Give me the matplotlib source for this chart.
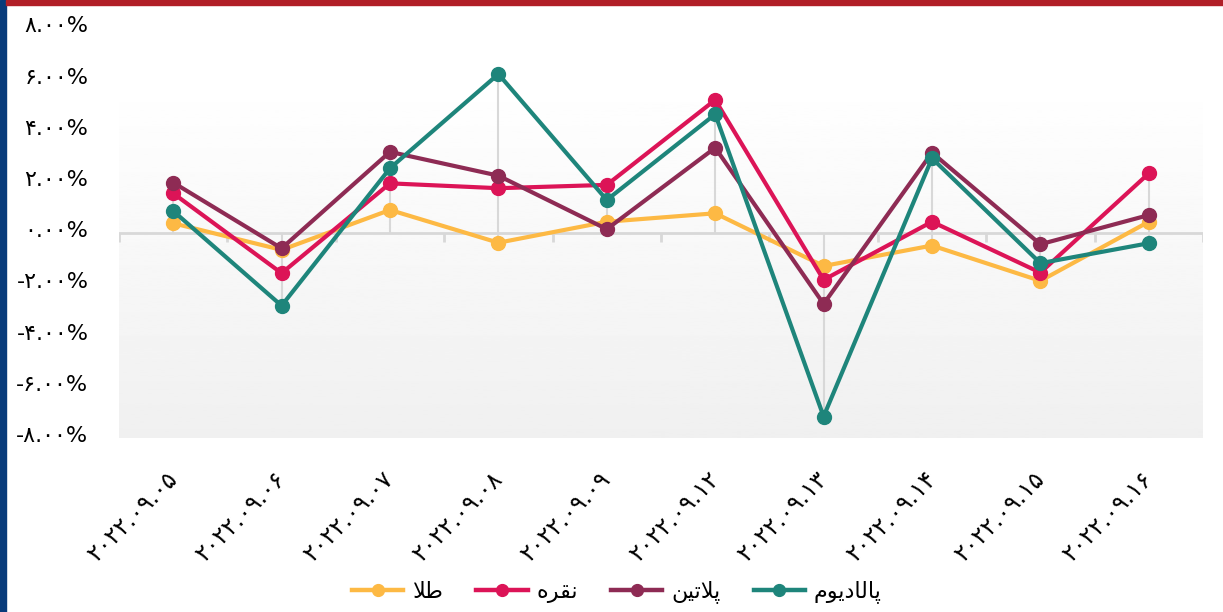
import numpy as np
import matplotlib.pyplot as plt
import matplotlib.transforms as mtransforms
from matplotlib.lines import Line2D
from matplotlib.patches import Rectangle

plt.rcParams['font.family'] = ['DejaVu Sans']

# داده ها
dates = ['2022.09.05', '2022.09.06', '2022.09.07', '2022.09.08', '2022.09.09',
         '2022.09.12', '2022.09.13', '2022.09.14', '2022.09.15', '2022.09.16']
gold = [0.39, -0.65, 0.91, -0.37, 0.45, 0.78, -1.28, -0.48, -1.86, 0.45]
silver = [1.56, -1.56, 1.95, 1.76, 1.89, 5.21, -1.82, 0.45, -1.54, 2.34]
platinum = [1.98, -0.59, 3.18, 2.25, 0.16, 3.34, -2.76, 3.15, -0.43, 0.71]
palladium = [0.87, -2.83, 2.54, 6.22, 1.30, 4.65, -7.16, 2.93, -1.17, -0.39]
names = ['طلا', 'نقره', 'پلاتین', 'پالادیوم']
colors = ['#fdb944', '#dc1457', '#8e2b54', '#1e857b']
yticks = [-8, -6, -4, -2, 0, 2, 4, 6, 8]

# matplotlib متن عربی را شکل نمی دهد: حروف چسبیده به ترتیب دیداری
shaped = {
    'طلا': '\uFEFC\uFEC3',
    'نقره': '\uFEE9\uFEAE\uFED8\uFEE7',
    'پلاتین': '\uFEE6\uFBFF\uFE97\uFEFC\uFB58',
    'پالادیوم': '\uFEE1\uFEEE\uFBFE\uFEA9\uFE8E\uFEDF\uFE8E\uFB58',
}

fa = str.maketrans('0123456789', '۰۱۲۳۴۵۶۷۸۹')


def to_fa(s):
    return s.translate(fa)


fig = plt.figure(figsize=(12.23, 6.12), dpi=100)
ax = fig.add_axes([119 / 1223, 1 - 438 / 612, 1084 / 1223, 409.5 / 612])

# قاب بیرونی
fig.patches.append(Rectangle((0, 0), 6 / 1223, 1, transform=fig.transFigure,
                             color='#083b7a', zorder=10))
fig.patches.append(Rectangle((6 / 1223, 1 - 5 / 612), 1, 5 / 612,
                             transform=fig.transFigure, color='#b11f27', zorder=10))

x = np.arange(len(dates))
series = [gold, silver, platinum, palladium]

# پس زمینه گرادیان
grad = np.linspace(0.94, 1.0, 256)[:, None]
ax.imshow(grad, cmap='gray', vmin=0, vmax=1, origin='lower', aspect='auto',
          extent=[-0.5, len(dates) - 0.5, -8, 6], zorder=0)

data = np.array(series)
lo = np.minimum(data.min(axis=0), 0)
hi = np.maximum(data.max(axis=0), 0)
ax.vlines(x, lo, hi, color='#d8d8d8', lw=1.5, zorder=1)
ax.axhline(0, color='#d8d8d8', lw=2, zorder=1)
ax.vlines(np.arange(-0.5, len(dates)), 0, -0.35, color='#d8d8d8', lw=2, zorder=1)

for vals, c in zip(series, colors):
    ax.plot(x, vals, color=c, lw=3, marker='o', markersize=10, zorder=3)

ax.set_xlim(-0.5, len(dates) - 0.5)
ax.set_ylim(-8, 8)
for s in ax.spines.values():
    s.set_visible(False)

ax.set_yticks(yticks)
ax.set_yticklabels([to_fa(f'{v:.2f}%') for v in yticks], fontsize=16)
ax.tick_params(axis='y', length=0, pad=22)
for lab in ax.get_yticklabels():
    lab.set_transform(lab.get_transform() +
                      mtransforms.ScaledTranslation(0, 4 / 100, fig.dpi_scale_trans))

ax.set_xticks(x)
ax.set_xticklabels([to_fa(d) for d in dates], fontsize=17, rotation=45,
                   ha='right', va='center', rotation_mode='anchor')
ax.tick_params(axis='x', length=0, pad=27)

handles = [Line2D([], [], color=c, lw=3.2, marker='o', markersize=8.5) for c in colors]
fig.legend(handles, [shaped[n] for n in names], loc='center',
           bbox_to_anchor=(617 / 1223, 1 - 592 / 612), ncol=4, frameon=False,
           fontsize=16, handlelength=2.3, handletextpad=0.4, columnspacing=1.5)

fig.savefig('out.png', dpi=100)
